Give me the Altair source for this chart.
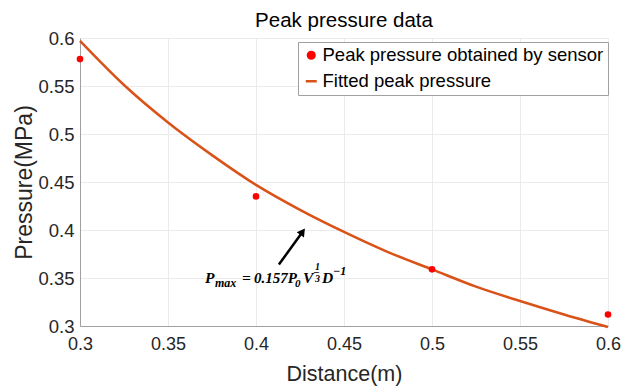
import altair as alt
import pandas as pd

# ---------------- data ----------------
series_names = ["Peak pressure obtained by sensor", "Fitted peak pressure"]
series_colors = ["#ff0000", "#d95319"]
series_shapes = ["circle", "stroke"]
series_sizes = [44, 121]

sensor_distance = [0.3, 0.4, 0.5, 0.6]
sensor_pressure = [0.578, 0.435, 0.359, 0.312]

fit_distance = [0.300, 0.325, 0.350, 0.375, 0.400, 0.425, 0.450,
                0.475, 0.500, 0.525, 0.550, 0.575, 0.600]
fit_pressure = [0.597, 0.551, 0.512, 0.478, 0.447, 0.421, 0.398,
                0.377, 0.359, 0.341, 0.326, 0.312, 0.299]

x_ticks = [0.3, 0.35, 0.4, 0.45, 0.5, 0.55, 0.6]
y_ticks = [0.3, 0.35, 0.4, 0.45, 0.5, 0.55, 0.6]

arrow_x = [0.413, 0.4265]
arrow_y = [0.364, 0.3982]

formula_x = 0.371
formula_y = 0.3443
# (text, dx, dy, size)
formula_parts = [
    ("P", 0, 0, 15.5),
    ("max", 10, 4, 12),
    ("=", 37, 0, 15.5),
    ("0.157P", 49, 0, 15),
    ("0", 90, 4, 11),
    ("V", 98, 0, 15.5),
    ("1", 110, -13, 10),
    ("\u2013", 109, -8, 10),
    ("3", 110, -1, 10),
    ("D", 117, 0, 15.5),
    ("\u22121", 128, -8, 12),
]

title_text = "Peak pressure data"
x_title = "Distance(m)"
y_title = "Pressure(MPa)"

# ---------------- tables ----------------
pts = pd.DataFrame({"d": sensor_distance, "p": sensor_pressure, "s": series_names[0]})
fit = pd.DataFrame({"d": fit_distance, "p": fit_pressure, "s": series_names[1]})
arr = pd.DataFrame({"d": arrow_x, "p": arrow_y})
head = pd.DataFrame({"d": [arrow_x[-1]], "p": [arrow_y[-1]]})
anchor = pd.DataFrame({"d": [formula_x], "p": [formula_y]})

FONT = "Liberation Sans"

xscale = alt.Scale(domain=[0.3, 0.6], nice=False, zero=False)
yscale = alt.Scale(domain=[0.3, 0.6], nice=False, zero=False)

x_axis = alt.Axis(values=x_ticks, format="~g", title=x_title, labelFontSize=18,
                  titleFontSize=21.5, labelPadding=9, titlePadding=10, ticks=False,
                  labelFlush=False)
y_axis = alt.Axis(values=y_ticks, format="~g", title=y_title, labelFontSize=18.5,
                  titleFontSize=23, labelPadding=6, titlePadding=1, ticks=False,
                  labelFlush=False)

leg = alt.Legend(title=None, orient="none", legendX=218, legendY=4,
                 strokeColor="#a0a0a0", fillColor="white", padding=4,
                 labelFont=FONT, labelFontSize=18.5, labelColor="#000000",
                 labelOffset=2, rowPadding=7, symbolStrokeWidth=2.5,
                 labelLimit=400, symbolOpacity=1)

color_scale = alt.Scale(domain=series_names, range=series_colors)
shape_scale = alt.Scale(domain=series_names, range=series_shapes)
size_scale = alt.Scale(domain=series_names, range=series_sizes)

line = alt.Chart(fit).mark_line(strokeWidth=2.5, interpolate="monotone").encode(
    x=alt.X("d:Q", scale=xscale, axis=x_axis),
    y=alt.Y("p:Q", scale=yscale, axis=y_axis),
    color=alt.Color("s:N", scale=color_scale, legend=leg),
)
points = alt.Chart(pts).mark_point(filled=True, opacity=1).encode(
    x="d:Q", y="p:Q",
    color=alt.Color("s:N", scale=color_scale, legend=leg),
    shape=alt.Shape("s:N", scale=shape_scale, legend=leg),
    size=alt.Size("s:N", scale=size_scale, legend=leg),
)
arrow_line = alt.Chart(arr).mark_line(color="black", strokeWidth=2.5).encode(
    x="d:Q", y="p:Q")
arrow_head = alt.Chart(head).mark_point(shape="triangle-up", filled=True,
                                        color="black", size=80, angle=36,
                                        opacity=1).encode(x="d:Q", y="p:Q")
texts = []
for t, dx, dy, sz in formula_parts:
    texts.append(
        alt.Chart(anchor).mark_text(text=t, dx=dx, dy=dy, fontSize=sz,
                                    font="Liberation Serif", fontStyle="italic",
                                    fontWeight="bold", align="left",
                                    baseline="alphabetic", color="black").encode(
            x="d:Q", y="p:Q")
    )

chart = alt.layer(line, points, arrow_line, arrow_head, *texts).properties(
    width=528, height=288,
    title=alt.TitleParams(title_text, fontSize=20.5, font=FONT, fontWeight="normal",
                          color="#000000", anchor="middle", offset=-2),
    padding={"left": 72, "top": 30, "right": 21, "bottom": 60},
    autosize=alt.AutoSizeParams(type="none"),
).configure_view(stroke=None).configure_axis(
    labelFont=FONT, titleFont=FONT, labelColor="#262626", titleColor="#262626",
    titleFontWeight="normal", domainColor="#a0a0a0", domainWidth=1,
    gridColor="#ebebeb", gridWidth=1,
)

chart.save("out.html", embed_options={"renderer": "svg", "actions": False})
